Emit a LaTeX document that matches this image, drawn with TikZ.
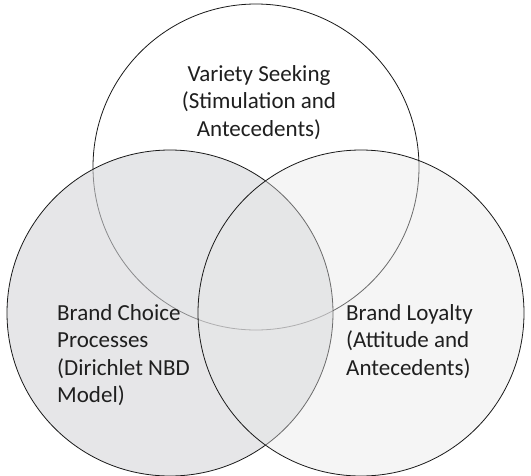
\documentclass[tikz,border=0pt]{standalone}
\usepackage{fontspec}
\setmainfont{Carlito}
\begin{document}
\begin{tikzpicture}[x=1pt,y=-1pt,
  ring/.style={circle, draw=black!90, line width=0.8pt, minimum size=326pt, inner sep=0pt},
  lbl/.style={inner sep=0pt, font=\fontsize{23}{27.5}\selectfont, text=black!88}]
\useasboundingbox (0,0) rectangle (531,475);
\definecolor{leftfill}{RGB}{213,214,217}
\definecolor{rightfill}{RGB}{230,230,230}
\node[ring, fill=white] (vs) at (256,167) {};
\node[ring, fill=leftfill, fill opacity=0.6] (bc) at (170,313) {};
\node[ring, fill=rightfill, fill opacity=0.4] (bl) at (361,313) {};
\node[lbl, align=center, anchor=north] (tvs) at (259,65) {Variety Seeking\\(Stimulation and\\Antecedents)};
\node[lbl, align=left, anchor=north west] (tbc) at (57,304) {Brand Choice\\Processes\\(Dirichlet NBD\\Model)};
\node[lbl, align=left, anchor=north west] (tbl) at (346,304) {Brand Loyalty\\(Attitude and\\Antecedents)};
\end{tikzpicture}
\end{document}
